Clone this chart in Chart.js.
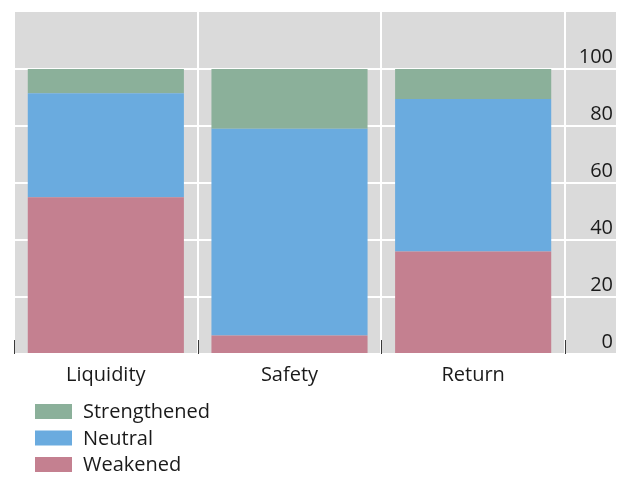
<!DOCTYPE html>
<html>
<head>
<meta charset="utf-8">
<script src="https://cdn.jsdelivr.net/npm/chart.js@4"></script>
<style>
  html, body { margin: 0; padding: 0; background: #ffffff; }
  #wrap { width: 618px; height: 477px; position: relative; }
</style>
</head>
<body>
<div id="wrap"><canvas id="c" width="618" height="477"></canvas></div>
<script>
// ---- data ----
const categories = ["Liquidity", "Safety", "Return"];
const weakened = [55, 6.5, 36];
const neutral = [36.5, 72.5, 53.5];
const strengthened = [8.5, 21, 10.5];
const yTicks = [0, 20, 40, 60, 80, 100];
const seriesNames = ["Weakened", "Neutral", "Strengthened"];
const seriesColors = ["#c48090", "#6aabdf", "#8bb09a"];

const FONT = '"Open Sans", "Noto Sans", sans-serif';
const TEXT = '#1a1a1a';

const bgPlugin = {
  id: 'bgPanel',
  beforeDraw(chart) {
    const ctx = chart.ctx, a = chart.chartArea;
    ctx.save();
    ctx.fillStyle = '#dadada';
    ctx.fillRect(a.left, a.top, chart.width - 2 - a.left, a.bottom - a.top);
    ctx.restore();
  },
  afterDatasetsDraw(chart) {
    const ctx = chart.ctx, a = chart.chartArea, xs = chart.scales.x;
    const step = xs.getPixelForValue(1) - xs.getPixelForValue(0);
    ctx.save();
    ctx.strokeStyle = '#3a3a3a';
    ctx.lineWidth = 1;
    for (let i = 0; i <= categories.length; i++) {
      const x = Math.round(xs.getPixelForValue(0) - step / 2 + i * step) + 0.5;
      ctx.beginPath();
      ctx.moveTo(x, a.bottom - 14);
      ctx.lineTo(x, a.bottom);
      ctx.stroke();
    }
    ctx.restore();
  },
  afterDraw(chart) {
    // legend, reversed order (top series first)
    const ctx = chart.ctx;
    const ds = chart.data.datasets.slice().reverse();
    ctx.save();
    ctx.font = '20px ' + FONT;
    ctx.textBaseline = 'middle';
    ds.forEach((d, i) => {
      const cy = 411.5 + i * 26.5;
      ctx.fillStyle = d.backgroundColor;
      ctx.fillRect(35, cy - 7.5, 37, 15);
      ctx.fillStyle = TEXT;
      ctx.fillText(d.label, 83, cy + 1);
    });
    ctx.restore();
  }
};

new Chart(document.getElementById('c'), {
  type: 'bar',
  data: {
    labels: categories,
    datasets: [
      { label: seriesNames[0], data: weakened, backgroundColor: seriesColors[0] },
      { label: seriesNames[1], data: neutral, backgroundColor: seriesColors[1] },
      { label: seriesNames[2], data: strengthened, backgroundColor: seriesColors[2] }
    ]
  },
  options: {
    responsive: false,
    animation: false,
    devicePixelRatio: 1,
    layout: { padding: { left: 14, top: 10, right: 5, bottom: 0 } },
    plugins: { legend: { display: false }, tooltip: { enabled: false } },
    datasets: { bar: { barPercentage: 0.85, categoryPercentage: 1, borderWidth: 0 } },
    scales: {
      x: {
        stacked: true,
        offset: true,
        border: { display: false },
        grid: { offset: true, color: '#ffffff', lineWidth: 2, drawTicks: false },
        ticks: { color: TEXT, font: { family: FONT, size: 20 }, padding: 9 },
        afterFit(s) { s.height = 123; }
      },
      y: {
        stacked: true,
        position: 'right',
        min: 0, max: 120,
        border: { display: false },
        afterBuildTicks(s) { s.ticks = yTicks.map(v => ({ value: v })); },
        grid: { color: '#ffffff', lineWidth: 2, drawTicks: true, tickLength: 51, tickColor: '#ffffff' },
        ticks: {
          color: TEXT, font: { family: FONT, size: 20 },
          crossAlign: 'far', labelOffset: -12, padding: 0
        },
        afterFit(s) { s.width = 48; }
      }
    }
  },
  plugins: [bgPlugin]
});
</script>
</body>
</html>
